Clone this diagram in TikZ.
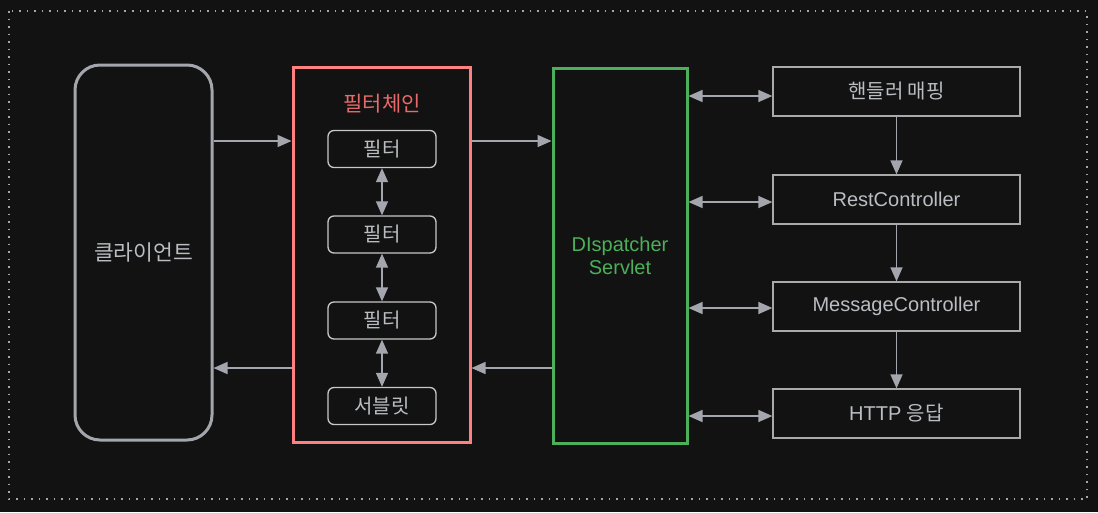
\documentclass[tikz,border=0pt]{standalone}
\usepackage{fontspec}
\setmainfont{Liberation Sans}
\newfontfamily\kr{Noto Sans CJK KR}
\usetikzlibrary{arrows.meta}
\definecolor{bg}{HTML}{121212}
\definecolor{grayline}{HTML}{A3A7AD}
\definecolor{graytext}{HTML}{BABDC1}
\definecolor{chainred}{HTML}{FF8080}
\definecolor{chaintext}{HTML}{E86A6A}
\definecolor{dispgreen}{HTML}{4CAF5A}
\definecolor{boxline}{HTML}{C8C8C8}
\tikzset{
  conn/.style={draw=grayline, line width=1.4pt, -{Triangle[length=14pt,width=12pt]}},
  bconn/.style={draw=grayline, line width=1.4pt, {Triangle[length=14pt,width=12pt]}-{Triangle[length=14pt,width=12pt]}},
  bigbox/.style={draw, line width=3pt, minimum width=#1, minimum height=375pt, inner sep=0pt},
  filterbox/.style={draw=boxline, line width=1.3pt, rounded corners=6pt, minimum width=108pt, minimum height=37pt, inner sep=0pt, text=graytext, font=\kr\fontsize{20}{22}\selectfont},
  rightbox/.style={draw=boxline!85!black, line width=1.3pt, minimum width=247pt, minimum height=49pt, inner sep=0pt, text=graytext, font=\fontsize{20}{22}\selectfont},
}
\begin{document}
\begin{tikzpicture}[x=1pt,y=-1pt]
\fill[bg] (0,0) rectangle (1098,512);
\useasboundingbox (0,0) rectangle (1098,512);
\draw[grayline, line width=1.5pt, dash pattern=on 1.5pt off 6pt] (9,11) rectangle (1087,499);

% client
\node[bigbox=137pt, draw=grayline, rounded corners=25pt, text=graytext, font=\kr\fontsize{21.5}{24}\selectfont] (client) at (143.5,252.5) {클라이언트};

% filter chain
\node[bigbox=177pt, draw=chainred] (chain) at (381.5,254.5) {};
\node[text=chaintext, font=\kr\fontsize{21}{24}\selectfont] (chaintitle) at (382,104) {필터체인};
\node[filterbox] (f1) at (382,149) {필터};
\node[filterbox] (f2) at (382,234.5) {필터};
\node[filterbox] (f3) at (382,320.5) {필터};
\node[filterbox] (f4) at (382,406) {서블릿};
\draw[bconn] (f1.south) -- (f2.north);
\draw[bconn] (f2.south) -- (f3.north);
\draw[bconn] (f3.south) -- (f4.north);

% dispatcher
\node[bigbox=134pt, draw=dispgreen, text=dispgreen, align=center, font=\fontsize{20}{23}\selectfont] (disp) at (620,255.5) {DIspatcher\\Servlet};

% right boxes
\node[rightbox, font=\kr\fontsize{20}{22}\selectfont] (hm) at (896.5,91.5) {핸들러 매핑};
\node[rightbox] (rc) at (896.5,199.5) {RestController};
\node[rightbox] (mc) at (896.5,306.5) {MessageController};
\node[rightbox] (http) at (896.5,413.5) {HTTP {\kr 응답}};

\draw[conn] (hm.south) -- (rc.north);
\draw[conn] (rc.south) -- (mc.north);
\draw[conn] (mc.south) -- (http.north);

% horizontal connectors
\coordinate (ya) at (0,141);
\coordinate (yb) at (0,368);
\draw[conn] (client.east |- ya) -- (chain.west |- ya);
\draw[conn] (chain.east |- ya) -- (disp.west |- ya);
\draw[conn] (disp.west |- yb) -- (chain.east |- yb);
\draw[conn] (chain.west |- yb) -- (client.east |- yb);

\coordinate (y1) at (0,96);
\coordinate (y2) at (0,202);
\coordinate (y3) at (0,308);
\coordinate (y4) at (0,416);
\draw[bconn] (disp.east |- y1) -- (hm.west |- y1);
\draw[bconn] (disp.east |- y2) -- (rc.west |- y2);
\draw[bconn] (disp.east |- y3) -- (mc.west |- y3);
\draw[bconn] (disp.east |- y4) -- (http.west |- y4);
\end{tikzpicture}
\end{document}
